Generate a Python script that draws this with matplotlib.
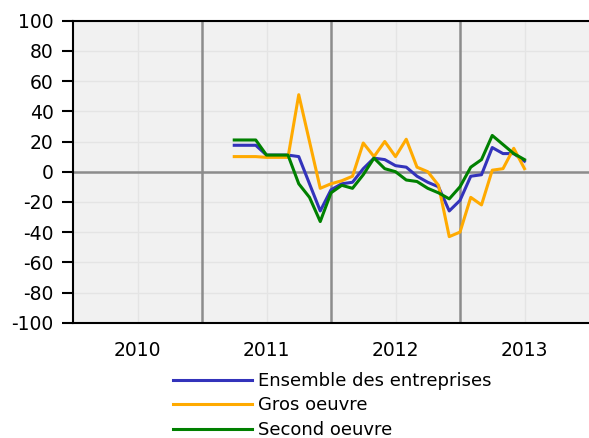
import numpy as np
import matplotlib.pyplot as plt

plt.rcParams['axes.unicode_minus'] = False

# months counted from Jan 2010 (0) ; data from Apr 2011 to Jul 2013
months = np.arange(15, 43)

ensemble = [17.5, 17.5, 17.5, 11, 11, 11, 10, -8, -26, -12, -8, -7, 2, 9,
            8, 4, 3, -3, -7, -10, -26, -19, -3, -2, 16, 12, 12, 7]
gros = [10, 10, 10, 9.5, 9.5, 9.5, 51, 20, -11, -8, -6, -3, 19, 10,
        20, 10, 21.5, 3, 0, -9, -43, -40, -17, -22, 1, 2, 15.5, 2]
second = [21, 21, 21, 11, 11, 11, -8, -17, -33, -14, -9, -11, -2, 9,
          2, 0, -5.5, -6.5, -11, -14, -18, -10, 3, 8, 24, 18, 12, 8]

years = ['2010', '2011', '2012', '2013']
year_mid = [6, 18, 30, 42]
year_bounds = [12, 24, 36]

fig = plt.figure(figsize=(5.89, 4.38), dpi=100)
ax = fig.add_axes([73/589, 1 - 322.7/438, 1 - 73/589, (322.7 - 20.7)/438])
ax.set_facecolor('#f1f1f1')

# grid
for yv in range(-100, 101, 20):
    ax.axhline(yv, color='#e4e4e4', lw=1, zorder=0)
for xv in year_mid:
    ax.axvline(xv, color='#e4e4e4', lw=1, zorder=0)
for xv in year_bounds:
    ax.axvline(xv, color='#8c8c8c', lw=1.8, zorder=1)
ax.axhline(0, color='#8c8c8c', lw=1.8, zorder=1)

ax.plot(months, ensemble, color='#3333bb', lw=2.2, label='Ensemble des entreprises', zorder=3)
ax.plot(months, gros, color='#ffaa00', lw=2.2, label='Gros oeuvre', zorder=3)
ax.plot(months, second, color='#008000', lw=2.2, label='Second oeuvre', zorder=3)

ax.set_xlim(0, 48)
ax.set_ylim(-100, 100)
ax.set_yticks(range(-100, 101, 20))
ax.set_xticks(year_mid)
ax.set_xticklabels(years)
ax.tick_params(axis='y', length=8, width=1.5, pad=6, labelsize=13.5)
ax.tick_params(axis='x', length=0, pad=13, labelsize=13.5)

ax.spines['right'].set_visible(False)
for s in ['left', 'top', 'bottom']:
    ax.spines[s].set_linewidth(1.5)

fig.legend(loc='upper left', bbox_to_anchor=(173/589, 1 - 372/438), frameon=False,
           fontsize=13, handlelength=4.4, handletextpad=0.33, labelspacing=0.36,
           borderpad=0, borderaxespad=0)

fig.savefig('out.png', dpi=100)
